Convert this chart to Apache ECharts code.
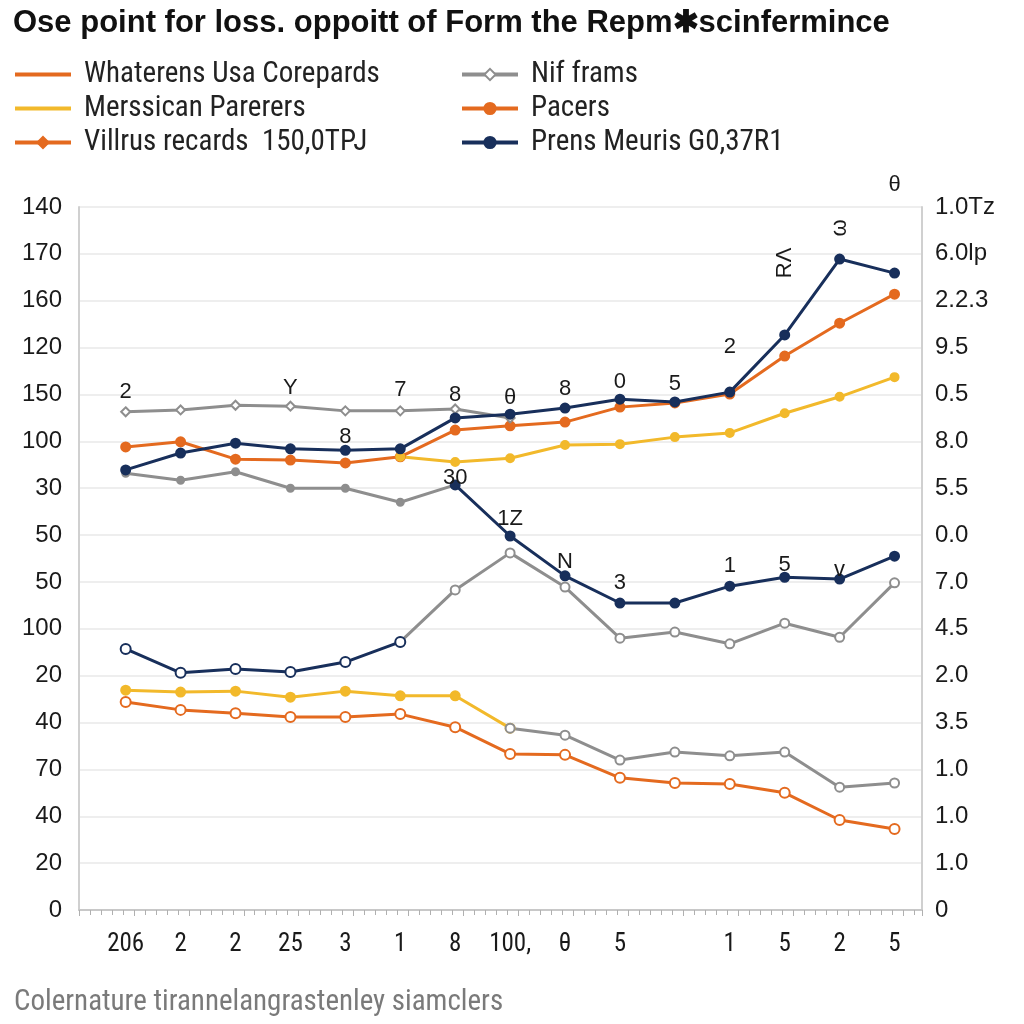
<!DOCTYPE html>
<html><head><meta charset="utf-8">
<script src="https://cdn.jsdelivr.net/npm/echarts@6/dist/echarts.min.js"></script>
<style>html,body{margin:0;padding:0;background:#fff}#c{width:1024px;height:1024px}</style>
</head><body><div id="c"></div>
<script>
// ---------- data ----------
const titleText = 'Ose point for loss. oppoitt of Form the Repm\u2731scinfermince';
const footerText = 'Colernature tirannelangrastenley siamclers';
const categories = ['206','2','2','25','3','1','8','100,','\u03b8','5','','1','5','2','5'];
// tick labels bottom -> top
const leftTicks  = ['0','20','40','70','40','20','100','50','50','30','100','150','120','160','170','140'];
const rightTicks = ['0','1.0','1.0','1.0','3.5','2.0','4.5','7.0','0.0','5.5','8.0','0.5','9.5','2.2.3','6.0lp','1.0Tz'];

const orangeUpper = [9.88,9.99,9.62,9.60,9.54,9.67,10.24,10.33,10.41,10.73,10.82,11.01,11.82,12.52,13.14];
const orangeLower = [4.44,4.27,4.20,4.12,4.12,4.18,3.90,3.33,3.31,2.82,2.71,2.69,2.50,1.92,1.73];
const navyUpper   = [9.39,9.75,9.96,9.84,9.81,9.84,10.50,10.58,10.71,10.90,10.84,11.05,12.27,13.89,13.59];
const navyMid     = [9.07,7.98,7.13,6.55,6.55,6.91,7.10,7.06,7.55];        // from index 6
const navyLower   = [5.57,5.06,5.14,5.08,5.29,5.72];                        // from index 0
const yellowUpper = [9.67,9.56,9.64,9.92,9.94,10.09,10.18,10.60,10.95,11.37]; // from index 5
const yellowLower = [4.69,4.65,4.67,4.54,4.67,4.57,4.57,3.88];              // from index 0
const grayUpper   = [10.63,10.67,10.77,10.75,10.65,10.65,10.69,10.50];      // from index 0
const grayMidUp   = [9.32,9.17,9.35,9.00,9.00,8.70,9.07];                   // from index 0
const grayMidLow  = [5.72,6.83,7.62,6.89,5.80,5.93,5.68,6.12,5.82,6.98];    // from index 5
const grayLower   = [3.88,3.73,3.20,3.37,3.29,3.37,2.62,2.71];              // from index 7

// point annotations (text per point)
const navyUpperText = ['','','','','8','','','\u03b8','8','0','5','2','R\u039b','\u03c9','\u03b8'];
const navyMidText   = ['30','1\u0396','N','3','','1','5','v',''];
const grayUpperText = ['2','','','Y','','7','8',''];

// ---------- styling ----------
const C = {orange:'#E46A1F', yellow:'#F2B92B', gray:'#8E8E8E', navy:'#182F5B'};
// label offsets [dx, dy] in the label's own (possibly rotated) frame
const navyUpperOff = [null,null,null,null,[0,-13],null,null,[0,-16],[0,-19],[0,-17],[0,-18],[0,-45],[72,0],[31,0],[0,-88]];
const navyUpperRot = [0,0,0,0,0,0,0,0,0,0,0,0,90,90,0];
const navyMidOff   = [[0,-7],[0,-17],[0,-14],[0,-20],null,[0,-20],[0,-12],[0,-9],null];
const grayUpperOff = [[0,-20],null,null,[0,-18],null,[0,-21],[0,-14],null];
const narrow = '"Liberation Sans Narrow", "Roboto Condensed", "DejaVu Sans Condensed", sans-serif';
const plain = '"Liberation Sans", Arial, sans-serif';

function seg(start, vals, texts, offs, rots) {
  return vals.map((v, i) => {
    const item = {value: [start + i, v]};
    if (texts && texts[i]) {
      item.label = {show: true, formatter: texts[i], position: 'inside',
        offset: offs[i], rotate: rots ? rots[i] : 0,
        color: '#1a1a1a', fontSize: 22, fontFamily: plain};
    }
    return item;
  });
}

function line(name, color, data, symbol, size, extra) {
  return Object.assign({
    type: 'line', name, data, xAxisIndex: 0, yAxisIndex: 0,
    symbol, symbolSize: size, showAllSymbol: true,
    lineStyle: {color, width: 3}, itemStyle: {color, borderColor: color, borderWidth: 2},
    emphasis: {disabled: true}, z: 3
  }, extra || {});
}

const chart = echarts.init(document.getElementById('c'), null, {renderer: 'canvas'});
const hidden = {color: 'rgba(0,0,0,0)', borderColor: 'rgba(0,0,0,0)', opacity: 0};
const legendText = {fontSize: 29, color: '#222', fontFamily: narrow, padding: [0,0,0,8]};

chart.setOption({
  backgroundColor: '#fff',
  animation: false,
  title: [{
    text: titleText, left: 8, top: 3,
    textStyle: {fontSize: 31, fontWeight: 'bold', color: '#111', fontFamily: plain}
  }, {
    text: footerText, left: 9, top: 983,
    textStyle: {fontSize: 29, fontWeight: 'normal', color: '#7a7a7a', fontFamily: narrow}
  }],
  legend: [{
    left: 8, top: 55, orient: 'vertical', itemWidth: 56, itemHeight: 14, itemGap: 5,
    lineStyle: {width: 4}, textStyle: legendText,
    data: [
      {name: 'Whaterens Usa Corepards', itemStyle: hidden},
      {name: 'Merssican Parerers', itemStyle: hidden},
      {name: 'Villrus recards  150,0TPJ'}
    ]
  }, {
    left: 455, top: 55, orient: 'vertical', itemWidth: 56, itemHeight: 14, itemGap: 5,
    lineStyle: {width: 4}, textStyle: legendText,
    data: ['Nif frams', 'Pacers', 'Prens Meuris G0,37R1']
  }],
  grid: {left: 79, right: 102, top: 207, bottom: 114, containLabel: false},
  xAxis: [{
    type: 'value', min: -0.85, max: 14.5, interval: 1,
    axisLine: {show: true, onZero: false, lineStyle: {color: '#c8c8c8', width: 2}},
    axisTick: {show: true, length: 6, lineStyle: {color: '#b0b0b0', width: 1}},
    minorTick: {show: true, splitNumber: 5, length: 5, lineStyle: {color: '#b0b0b0'}},
    splitLine: {show: false},
    axisLabel: {
      customValues: categories.map((c, i) => i),
      formatter: v => categories[Math.round(v)] || '',
      color: '#1a1a1a', fontSize: 25, margin: 22, fontFamily: narrow
    }
  }],
  yAxis: [{
    type: 'value', min: 0, max: 15, interval: 1, position: 'left',
    axisLine: {show: true, onZero: false, lineStyle: {color: '#d0d0d0', width: 2}},
    axisTick: {show: false},
    splitLine: {show: true, lineStyle: {color: '#e9e9e9', width: 1.5}},
    axisLabel: {formatter: v => leftTicks[v], color: '#1a1a1a', fontSize: 24, margin: 17, fontFamily: plain}
  }, {
    type: 'value', min: 0, max: 15, interval: 1, position: 'right',
    axisLine: {show: true, onZero: false, lineStyle: {color: '#d0d0d0', width: 2}},
    axisTick: {show: false},
    splitLine: {show: false},
    axisLabel: {formatter: v => rightTicks[v], color: '#1a1a1a', fontSize: 24, margin: 13, fontFamily: plain}
  }],
  series: [
    line('Whaterens Usa Corepards', C.orange, seg(0, orangeLower), 'emptyCircle', 10, {itemStyle: {color: C.orange, borderColor: C.orange, borderWidth: 3}}),
    line('Pacers', C.orange, seg(0, orangeUpper), 'circle', 9),
    line('Villrus recards  150,0TPJ', C.orange, [], 'diamond', 10),
    line('Merssican Parerers', C.yellow, seg(5, yellowUpper), 'circle', 8),
    line('Merssican Parerers', C.yellow, seg(0, yellowLower), 'circle', 9),
    line('Nif frams', C.gray, seg(0, grayUpper, grayUpperText, grayUpperOff), 'emptyDiamond', 9),
    line('Nif frams', C.gray, seg(0, grayMidUp), 'circle', 7),
    line('Nif frams', C.gray, seg(5, grayMidLow), 'emptyCircle', 9),
    line('Nif frams', C.gray, seg(7, grayLower), 'emptyCircle', 9),
    line('Prens Meuris G0,37R1', C.navy, seg(0, navyUpper, navyUpperText, navyUpperOff, navyUpperRot), 'circle', 9, {z: 5}),
    line('Prens Meuris G0,37R1', C.navy, seg(6, navyMid, navyMidText, navyMidOff), 'circle', 9, {z: 5}),
    line('Prens Meuris G0,37R1', C.navy, seg(0, navyLower), 'emptyCircle', 10, {z: 5, itemStyle: {color: C.navy, borderColor: C.navy, borderWidth: 3}})
  ]
});
</script>
</body></html>
